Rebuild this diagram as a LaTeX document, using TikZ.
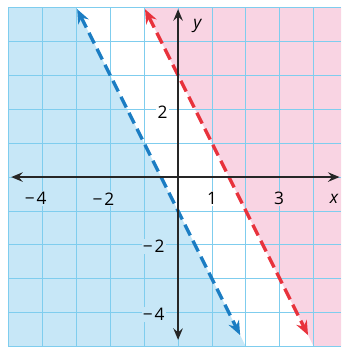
\documentclass[tikz,border=0pt]{standalone}
\usepackage{fontspec}
\setmainfont{Open Sans}
\usetikzlibrary{arrows.meta}
\definecolor{gridc}{HTML}{7FCDEE}
\definecolor{bfill}{HTML}{C7E7F7}
\definecolor{pfill}{HTML}{F9D4E3}
\definecolor{bline}{HTML}{1B7DC3}
\definecolor{rline}{HTML}{E8323C}
\begin{document}
\begin{tikzpicture}[x=1cm,y=1cm,
  gridline/.style={gridc, line width=0.8pt},
  axis/.style={black!85, line width=1.6pt, {Stealth[length=3.4mm,width=2.8mm,inset=1.2mm]}-{Stealth[length=3.4mm,width=2.8mm,inset=1.2mm]}},
  bound/.style={line width=2.8pt, dash pattern=on 10pt off 5pt, {Stealth[length=4.2mm,width=3.4mm,inset=1.4mm]}-{Stealth[length=4.2mm,width=3.4mm,inset=1.4mm]}},
  lbl/.style={font=\fontsize{14.5}{16}\selectfont, inner sep=1pt}
]
\useasboundingbox (-5.25,-5.01) rectangle (4.81,5.22);
\fill[bfill] (-5,5) -- (-3,5) -- (2,-5) -- (-5,-5) -- cycle;
\fill[pfill] (-1,5) -- (4.81,5) -- (4.81,-5) -- (4,-5) -- cycle;
\draw[gridline] (-5,-5) grid (4.81,5);
% labels
\node[lbl, fill=bfill] (xm4) at (-4.2,-0.64) {−\hspace{1.5pt}4};
\node[lbl, fill=bfill] (xm2) at (-2.2,-0.64) {−\hspace{1.5pt}2};
\node[lbl, fill=white] (x1) at (1,-0.64) {1};
\node[lbl, fill=pfill] (x3) at (2.98,-0.64) {3};
\node[lbl, fill=pfill] (xl) at (4.6,-0.64) {\itshape x};
\node[lbl, fill=white] (y2) at (-0.46,1.9) {2};
\node[lbl, fill=bfill] (ym2) at (-0.72,-2.05) {−\hspace{1.5pt}2};
\node[lbl, fill=bfill] (ym4) at (-0.72,-4.06) {−\hspace{1.5pt}4};
\node[lbl, fill=pfill] (yl) at (0.57,4.45) {\itshape y};
% boundary lines
\coordinate (b1) at (-2.975,4.95);
\coordinate (b2) at (1.83,-4.66);
\coordinate (r1) at (-0.975,4.95);
\coordinate (r2) at (3.83,-4.66);
\draw[bound, bline] (b1) -- (b2);
\draw[bound, rline] (r1) -- (r2);
% axes
\coordinate (xa) at (-4.92,0);
\coordinate (xb) at (4.76,0);
\coordinate (ya) at (0,-4.8);
\coordinate (yb) at (0,4.95);
\draw[axis] (xa) -- (xb);
\draw[axis] (ya) -- (yb);
\end{tikzpicture}
\end{document}
